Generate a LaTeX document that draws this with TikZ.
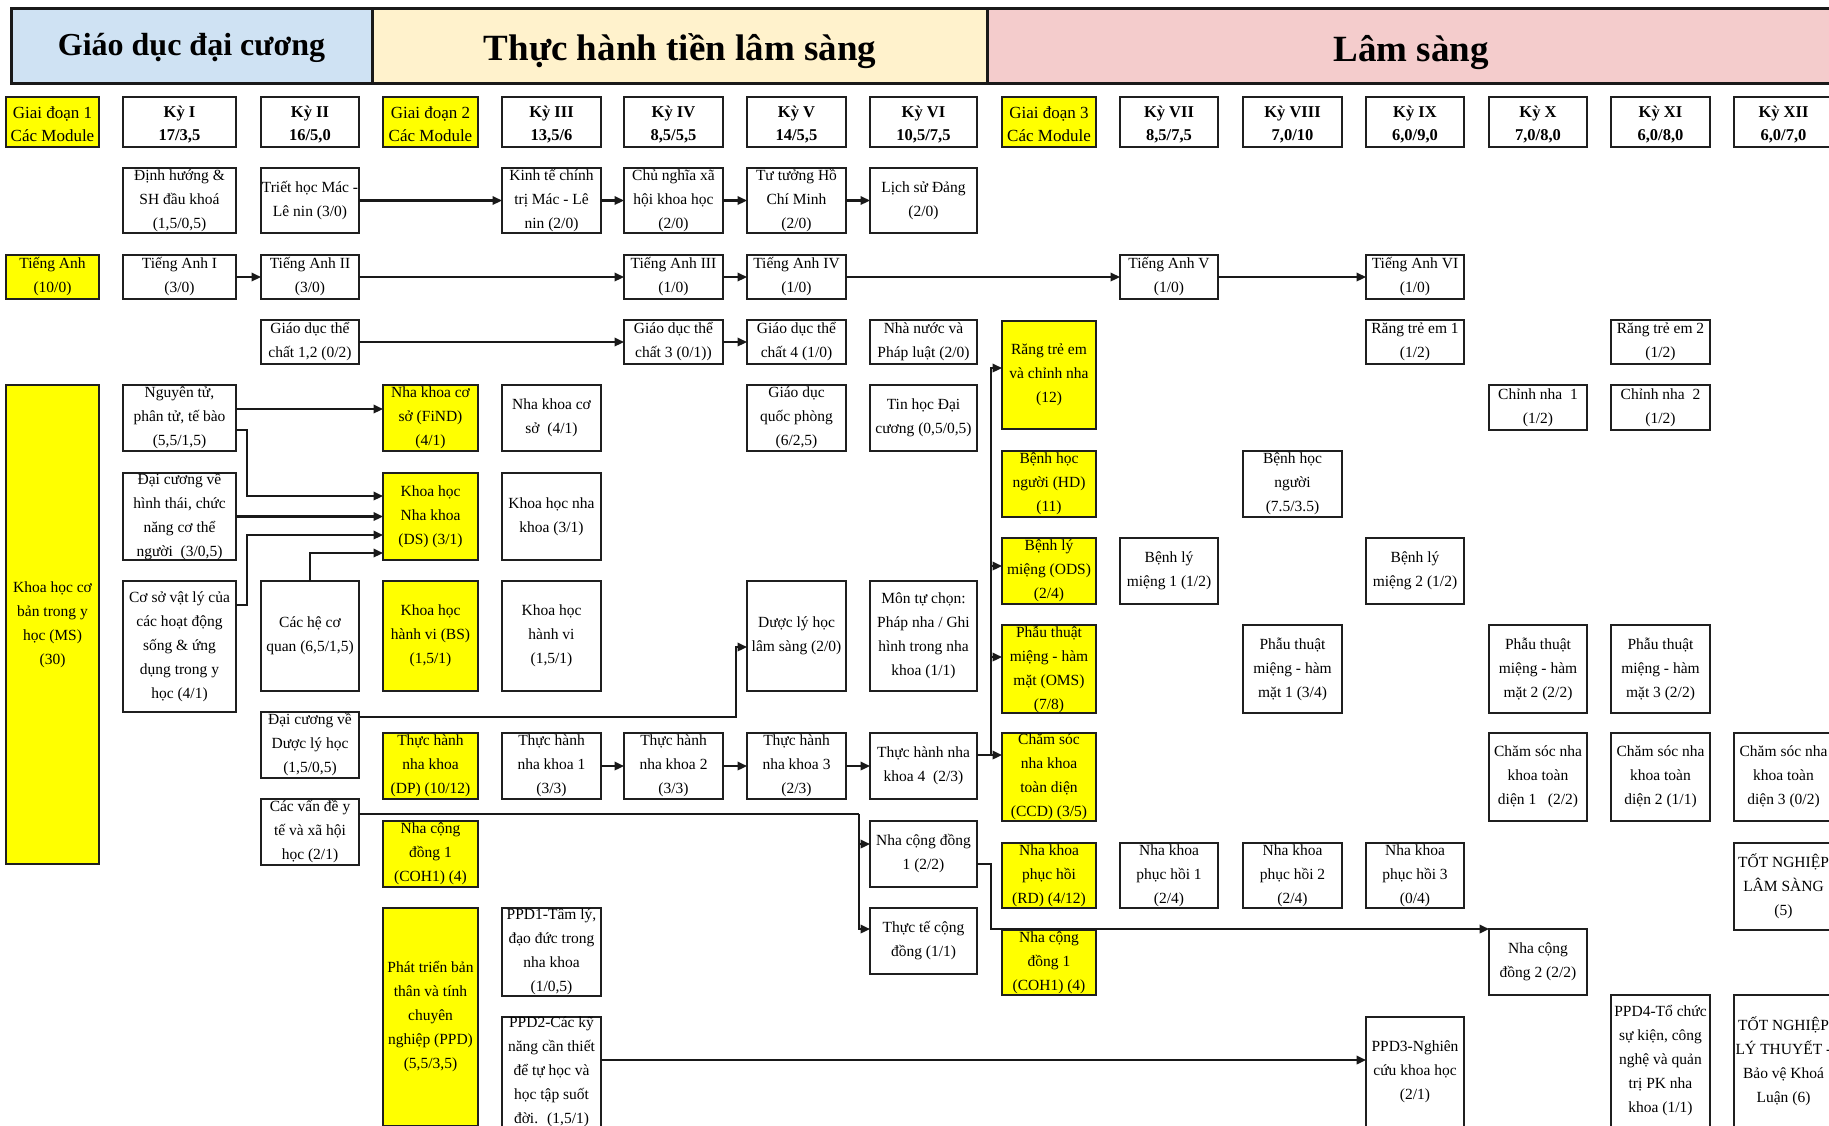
\documentclass[tikz,border=0pt]{standalone}
\usepackage{fontspec}
\setmainfont{Liberation Serif}
\usetikzlibrary{arrows.meta}
\definecolor{hblue}{HTML}{CFE2F3}
\definecolor{hcream}{HTML}{FFF2CC}
\definecolor{hpink}{HTML}{F4CCCC}
\definecolor{ylw}{HTML}{FFFF00}
\newcommand\bodyfont{\fontsize{15.5}{24}\selectfont}
\newcommand\hdfont{\fontsize{16.5}{23}\selectfont\bfseries}
\newcommand\gdfont{\fontsize{17}{23}\selectfont}
% \nbx{name}{x1}{y1}{x2}{y2}{box style}{font}{text}
\newcommand\nbx[8]{%
  \node[box,#6,minimum width={#4-#2},minimum height={#5-#3}] (#1) at ({(#2+#4)/2},{(#3+#5)/2}) {};%
  \node[txt,font=#7] at (#1.center) {#8};}
% header variant: text a little lower
\newcommand\hbx[8]{%
  \node[box,#6,minimum width={#4-#2},minimum height={#5-#3}] (#1) at ({(#2+#4)/2},{(#3+#5)/2}) {};%
  \node[txt,font=#7] at ([yshift=-2.5pt]#1.center) {#8};}
\tikzset{
  box/.style={draw=black!88, line width=2.5pt, fill=white, inner sep=0pt, outer sep=0pt},
  yl/.style={fill=ylw},
  txt/.style={align=center, inner sep=0pt},
  band/.style={draw=black!90, line width=3pt, inner sep=0pt, outer sep=0pt},
  arr/.style={draw=black!90, line width=2.2pt, -{Triangle[length=9.5pt,width=8.5pt]}},
  ln/.style={draw=black!90, line width=2.2pt}
}
\begin{document}
\begin{tikzpicture}[x=1pt,y=-1pt]
\useasboundingbox (0,0) rectangle (1829,1125);
% header bands
\node[band,fill=hblue,minimum width=361,minimum height=75] (b1) at (191.5,45.5) {};
\node[band,fill=hcream,minimum width=615,minimum height=75] (b2) at (679.5,45.5) {};
\node[band,fill=hpink,minimum width=846,minimum height=75] (b3) at (1410,45.5) {};
\node[anchor=base,inner sep=0pt,font=\fontsize{32}{36}\selectfont\bfseries] (t1) at (191.5,55) {Giáo dục đại cương};
\node[anchor=base,inner sep=0pt,font=\fontsize{37}{40}\selectfont\bfseries] (t2) at (680,60) {Thực hành tiền lâm sàng};
\node[anchor=base,inner sep=0pt,font=\fontsize{37}{40}\selectfont\bfseries] (t3) at (1411,61) {Lâm sàng};
% semester headers
\hbx{g1}{6}{97}{99}{147}{yl}{\gdfont}{Giai đoạn 1\\Các Module}
\hbx{k1}{123}{97}{236}{147}{}{\hdfont}{Kỳ I\\17/3,5}
\hbx{k2}{261}{97}{359}{147}{}{\hdfont}{Kỳ II\\16/5,0}
\hbx{g2}{383}{97}{478}{147}{yl}{\gdfont}{Giai đoạn 2\\Các Module}
\hbx{k3}{502}{97}{601}{147}{}{\hdfont}{Kỳ III\\13,5/6}
\hbx{k4}{624}{97}{723}{147}{}{\hdfont}{Kỳ IV\\8,5/5,5}
\hbx{k5}{747}{97}{846}{147}{}{\hdfont}{Kỳ V\\14/5,5}
\hbx{k6}{870}{97}{977}{147}{}{\hdfont}{Kỳ VI\\10,5/7,5}
\hbx{g3}{1002}{97}{1096}{147}{yl}{\gdfont}{Giai đoạn 3\\Các Module}
\hbx{k7}{1120}{97}{1218}{147}{}{\hdfont}{Kỳ VII\\8,5/7,5}
\hbx{k8}{1243}{97}{1342}{147}{}{\hdfont}{Kỳ VIII\\7,0/10}
\hbx{k9}{1366}{97}{1464}{147}{}{\hdfont}{Kỳ IX\\6,0/9,0}
\hbx{k10}{1489}{97}{1587}{147}{}{\hdfont}{Kỳ X\\7,0/8,0}
\hbx{k11}{1611}{97}{1710}{147}{}{\hdfont}{Kỳ XI\\6,0/8,0}
\hbx{k12}{1734}{97}{1833}{147}{}{\hdfont}{Kỳ XII\\6,0/7,0}
% row 1
\nbx{dinhhuong}{123}{168}{236}{233}{}{\bodyfont}{Định hướng \&\\SH đầu khoá\\(1,5/0,5)}
\nbx{triet}{261}{168}{359}{233}{}{\bodyfont}{Triết học Mác -\\Lê nin (3/0)}
\nbx{kinhte}{502}{168}{601}{233}{}{\bodyfont}{Kinh tế chính\\trị Mác - Lê\\nin (2/0)}
\nbx{cnxh}{624}{168}{723}{233}{}{\bodyfont}{Chủ nghĩa xã\\hội khoa học\\(2/0)}
\nbx{tutuong}{747}{168}{846}{233}{}{\bodyfont}{Tư tưởng Hồ\\Chí Minh\\(2/0)}
\nbx{lichsu}{870}{168}{977}{233}{}{\bodyfont}{Lịch sử Đảng\\(2/0)}
% English row
\nbx{ta}{6}{255}{99}{299}{yl}{\bodyfont}{Tiếng Anh\\(10/0)}
\nbx{ta1}{123}{255}{236}{299}{}{\bodyfont}{Tiếng Anh I\\(3/0)}
\nbx{ta2}{261}{255}{359}{299}{}{\bodyfont}{Tiếng Anh II\\(3/0)}
\nbx{ta3}{624}{255}{723}{299}{}{\bodyfont}{Tiếng Anh III\\(1/0)}
\nbx{ta4}{747}{255}{846}{299}{}{\bodyfont}{Tiếng Anh IV\\(1/0)}
\nbx{ta5}{1120}{255}{1218}{299}{}{\bodyfont}{Tiếng Anh V\\(1/0)}
\nbx{ta6}{1366}{255}{1464}{299}{}{\bodyfont}{Tiếng Anh VI\\(1/0)}
% PE row
\nbx{gd12}{261}{320}{359}{364}{}{\bodyfont}{Giáo dục thể\\chất 1,2 (0/2)}
\nbx{gd3}{624}{320}{723}{364}{}{\bodyfont}{Giáo dục thể\\chất 3 (0/1))}
\nbx{gd4}{747}{320}{846}{364}{}{\bodyfont}{Giáo dục thể\\chất 4 (1/0)}
\nbx{nhanuoc}{870}{320}{977}{364}{}{\bodyfont}{Nhà nước và\\Pháp luật (2/0)}
\nbx{rte1}{1366}{320}{1464}{364}{}{\bodyfont}{Răng trẻ em 1\\(1/2)}
\nbx{rte2}{1611}{320}{1710}{364}{}{\bodyfont}{Răng trẻ em 2\\(1/2)}
\nbx{rang}{1002}{321}{1096}{429}{yl}{\bodyfont}{Răng trẻ em\\và chỉnh nha\\(12)}
% lower part
\nbx{ms}{6}{385}{99}{864}{yl}{\bodyfont}{Khoa học cơ\\bản trong y\\học (MS)\\(30)}
\nbx{ngt}{123}{385}{236}{451}{}{\bodyfont}{Nguyên tử,\\phân tử, tế bào\\(5,5/1,5)}
\nbx{hinhthai}{123}{473}{236}{560}{}{\bodyfont}{Đại cương về\\hình thái, chức\\năng cơ thể\\người~ (3/0,5)}
\nbx{coso}{123}{581}{236}{712}{}{\bodyfont}{Cơ sở vật lý của\\các hoạt động\\sống \& ứng\\dụng trong y\\học (4/1)}
\nbx{hecq}{261}{581}{359}{691}{}{\bodyfont}{Các hệ cơ\\quan (6,5/1,5)}
\nbx{dcdl}{261}{712}{359}{778}{}{\bodyfont}{Đại cương về\\Dược lý học\\(1,5/0,5)}
\nbx{cvd}{261}{799}{359}{865}{}{\bodyfont}{Các vấn đề y\\tế và xã hội\\học (2/1)}
\nbx{find}{383}{385}{478}{451}{yl}{\bodyfont}{Nha khoa cơ\\sở (FiND)\\(4/1)}
\nbx{ds}{383}{473}{478}{560}{yl}{\bodyfont}{Khoa học\\Nha khoa\\(DS) (3/1)}
\nbx{bs}{383}{581}{478}{691}{yl}{\bodyfont}{Khoa học\\hành vi (BS)\\(1,5/1)}
\nbx{dp}{383}{733}{478}{799}{yl}{\bodyfont}{Thực hành\\nha khoa\\(DP) (10/12)}
\nbx{coha}{383}{821}{478}{887}{yl}{\bodyfont}{Nha cộng\\đồng 1\\(COH1) (4)}
\nbx{ppd}{383}{908}{478}{1126}{yl}{\bodyfont}{Phát triển bản\\thân và tính\\chuyên\\nghiệp (PPD)\\(5,5/3,5)}
\nbx{nkcs}{502}{385}{601}{451}{}{\bodyfont}{Nha khoa cơ\\sở~ (4/1)}
\nbx{khnk}{502}{473}{601}{560}{}{\bodyfont}{Khoa học nha\\khoa (3/1)}
\nbx{khhv}{502}{581}{601}{691}{}{\bodyfont}{Khoa học\\hành vi\\(1,5/1)}
\nbx{th1}{502}{733}{601}{799}{}{\bodyfont}{Thực hành\\nha khoa 1\\(3/3)}
\nbx{ppd1}{502}{908}{601}{996}{}{\bodyfont}{PPD1-Tâm lý,\\đạo đức trong\\nha khoa\\(1/0,5)}
\nbx{ppd2}{502}{1017}{601}{1127}{}{\bodyfont}{PPD2-Các kỹ\\năng cần thiết\\để tự học và\\học tập suốt\\đời.~ (1,5/1)}
\nbx{th2}{624}{733}{723}{799}{}{\bodyfont}{Thực hành\\nha khoa 2\\(3/3)}
\nbx{gdqp}{747}{385}{846}{451}{}{\bodyfont}{Giáo dục\\quốc phòng\\(6/2,5)}
\nbx{dlls}{747}{581}{846}{691}{}{\bodyfont}{Dược lý học\\lâm sàng (2/0)}
\nbx{th3}{747}{733}{846}{799}{}{\bodyfont}{Thực hành\\nha khoa 3\\(2/3)}
\nbx{tinhoc}{870}{385}{977}{451}{}{\bodyfont}{Tin học Đại\\cương (0,5/0,5)}
\nbx{tuchon}{870}{581}{977}{691}{}{\bodyfont}{Môn tự chọn:\\Pháp nha / Ghi\\hình trong nha\\khoa (1/1)}
\nbx{th4}{870}{733}{977}{799}{}{\bodyfont}{Thực hành nha\\khoa 4~ (2/3)}
\nbx{ncd1}{870}{821}{977}{887}{}{\bodyfont}{Nha cộng đồng\\1 (2/2)}
\nbx{ttcd}{870}{908}{977}{974}{}{\bodyfont}{Thực tế cộng\\đồng (1/1)}
\nbx{hd}{1002}{451}{1096}{517}{yl}{\bodyfont}{Bệnh học\\người (HD)\\(11)}
\nbx{ods}{1002}{538}{1096}{604}{yl}{\bodyfont}{Bệnh lý\\miệng (ODS)\\(2/4)}
\nbx{oms}{1002}{625}{1096}{713}{yl}{\bodyfont}{Phẫu thuật\\miệng - hàm\\mặt (OMS)\\(7/8)}
\nbx{ccd}{1002}{733}{1096}{821}{yl}{\bodyfont}{Chăm sóc\\nha khoa\\toàn diện\\(CCD) (3/5)}
\nbx{rd}{1002}{843}{1096}{908}{yl}{\bodyfont}{Nha khoa\\phục hồi\\(RD) (4/12)}
\nbx{cohb}{1002}{930}{1096}{995}{yl}{\bodyfont}{Nha cộng\\đồng 1\\(COH1) (4)}
\nbx{blm1}{1120}{538}{1218}{604}{}{\bodyfont}{Bệnh lý\\miệng 1 (1/2)}
\nbx{nkph1}{1120}{843}{1218}{908}{}{\bodyfont}{Nha khoa\\phục hồi 1\\(2/4)}
\nbx{bhn}{1243}{451}{1342}{517}{}{\bodyfont}{Bệnh học\\người\\(7.5/3.5)}
\nbx{pt1}{1243}{625}{1342}{713}{}{\bodyfont}{Phẫu thuật\\miệng - hàm\\mặt 1 (3/4)}
\nbx{nkph2}{1243}{843}{1342}{908}{}{\bodyfont}{Nha khoa\\phục hồi 2\\(2/4)}
\nbx{blm2}{1366}{538}{1464}{604}{}{\bodyfont}{Bệnh lý\\miệng 2 (1/2)}
\nbx{nkph3}{1366}{843}{1464}{908}{}{\bodyfont}{Nha khoa\\phục hồi 3\\(0/4)}
\nbx{ppd3}{1366}{1017}{1464}{1127}{}{\bodyfont}{PPD3-Nghiên\\cứu khoa học\\(2/1)}
\nbx{cn1}{1489}{385}{1587}{430}{}{\bodyfont}{Chỉnh nha~ 1\\(1/2)}
\nbx{pt2}{1489}{625}{1587}{713}{}{\bodyfont}{Phẫu thuật\\miệng - hàm\\mặt 2 (2/2)}
\nbx{cs1}{1489}{733}{1587}{821}{}{\bodyfont}{Chăm sóc nha\\khoa toàn\\diện 1~~ (2/2)}
\nbx{ncd2}{1489}{929}{1587}{995}{}{\bodyfont}{Nha cộng\\đồng 2 (2/2)}
\nbx{cn2}{1611}{385}{1710}{430}{}{\bodyfont}{Chỉnh nha~ 2\\(1/2)}
\nbx{pt3}{1611}{625}{1710}{713}{}{\bodyfont}{Phẫu thuật\\miệng - hàm\\mặt 3 (2/2)}
\nbx{cs2}{1611}{733}{1710}{821}{}{\bodyfont}{Chăm sóc nha\\khoa toàn\\diện 2 (1/1)}
\nbx{ppd4}{1611}{995}{1710}{1127}{}{\bodyfont}{PPD4-Tổ chức\\sự kiện, công\\nghệ và quản\\trị PK nha\\khoa (1/1)}
\nbx{cs3}{1734}{733}{1833}{821}{}{\bodyfont}{Chăm sóc nha\\khoa toàn\\diện 3 (0/2)}
\nbx{tnls}{1734}{843}{1833}{930}{}{\bodyfont}{TỐT NGHIỆP\\LÂM SÀNG\\(5)}
\nbx{tnlt}{1734}{995}{1833}{1127}{}{\bodyfont}{TỐT NGHIỆP\\LÝ THUYẾT -\\Bảo vệ Khoá\\Luận (6)}
% connectors: top rows
\draw[arr] (triet.east) -- (kinhte.west);
\draw[arr] (kinhte.east) -- (cnxh.west);
\draw[arr] (cnxh.east) -- (tutuong.west);
\draw[arr] (tutuong.east) -- (lichsu.west);
\draw[arr] (ta1.east) -- (ta2.west);
\draw[arr] (ta2.east) -- (ta3.west);
\draw[arr] (ta3.east) -- (ta4.west);
\draw[arr] (ta4.east) -- (ta5.west);
\draw[arr] (ta5.east) -- (ta6.west);
\draw[arr] (gd12.east) -- (gd3.west);
\draw[arr] (gd3.east) -- (gd4.west);
% basic sciences to module boxes
\draw[arr] ([yshift=9pt]ngt.east) -- ([yshift=9pt]find.west);
\coordinate (j1) at (247,496);
\coordinate (j2) at (247,535);
\draw[arr] ([yshift=-12pt]ngt.east) -| (j1) -- (j1 -| ds.west);
\draw[arr] (hinhthai.east) -- (ds.west);
\draw[arr] ([yshift=41.5pt]coso.east) -| (j2) -- (j2 -| ds.west);
\draw[arr] (hecq.north) |- ([yshift=-36.5pt]ds.west);
% pharmacology
\coordinate (j3) at (736,647);
\draw[arr] ([yshift=28pt]dcdl.east) -| (j3) -- (j3 -| dlls.west);
% practice chain
\draw[arr] (th1.east) -- (th2.west);
\draw[arr] (th2.east) -- (th3.west);
\draw[arr] (th3.east) -- (th4.west);
\draw[arr] ([yshift=11pt]th4.east) -- ([yshift=22pt]ccd.west);
\coordinate (bus) at (991,755);
\draw[arr] (bus) |- ([yshift=7pt]rang.west);
\draw[arr] (bus) |- ([yshift=5pt]ods.west);
\draw[arr] (bus) |- ([yshift=12pt]oms.west);
% community
\coordinate (j4) at (859,814);
\draw[ln] ([yshift=18pt]cvd.east) -- (j4);
\draw[arr] (j4) |- ([yshift=10pt]ncd1.west);
\draw[arr] (j4) |- ([yshift=12pt]ttcd.west);
\coordinate (j5) at (991,929);
\draw[arr] ([yshift=-10pt]ncd1.east) -| (j5) -- (j5 -| ncd2.west);
% PPD
\draw[arr] ([yshift=12pt]ppd2.east) -- ([yshift=12pt]ppd3.west);
\end{tikzpicture}
\end{document}
